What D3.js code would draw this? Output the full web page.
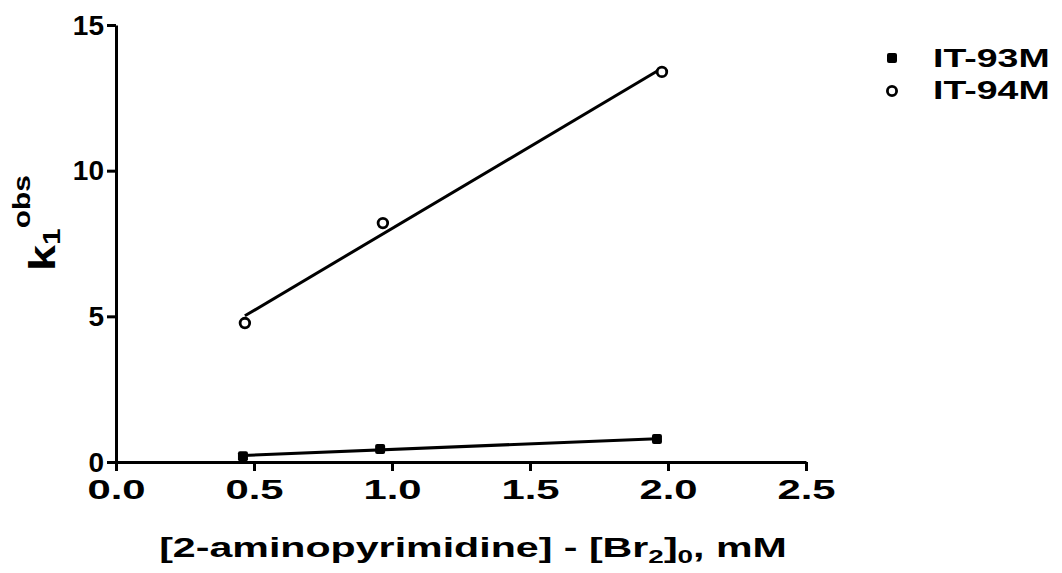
<!DOCTYPE html>
<html>
<head>
<meta charset="utf-8">
<script src="https://cdn.jsdelivr.net/npm/d3@7"></script>
<style>
  html, body { margin: 0; padding: 0; background: #fff; }
  svg { display: block; font-family: "Liberation Sans", Arial, Helvetica, sans-serif; font-weight: bold; }
</style>
</head>
<body>
<svg id="chart" width="1062" height="573"></svg>
<script>
// Concentration excess, mM
const xIT93M = [0.46, 0.957, 1.96];
const yIT93M = [0.20, 0.45, 0.79];
const xIT94M = [0.467, 0.967, 1.978];
const yIT94M = [4.77, 8.20, 13.39];

const seriesNames = ["IT-93M", "IT-94M"];
const xTicks = [0.0, 0.5, 1.0, 1.5, 2.0, 2.5];
const yTicks = [0, 5, 10, 15];

const svg = d3.select("#chart");

const x = d3.scaleLinear().domain([0, 2.5]).range([116, 806]);
const y = d3.scaleLinear().domain([0, 15]).range([462, 25]);

// least-squares straight line through a series
function fit(xs, ys) {
  const mx = d3.mean(xs), my = d3.mean(ys);
  let sxy = 0, sxx = 0;
  xs.forEach((v, i) => { sxy += (v - mx) * (ys[i] - my); sxx += (v - mx) ** 2; });
  const b = sxy / sxx, a = my - b * mx;
  const [x0, x1] = d3.extent(xs);
  return [[x0, a + b * x0], [x1, a + b * x1]];
}

// axes
const xAxis = svg.append("g")
  .attr("transform", `translate(0,${y(0)})`)
  .call(d3.axisBottom(x).tickValues(xTicks).tickFormat(d3.format(".1f")).tickSize(9).tickSizeOuter(0).tickPadding(9));
const yAxis = svg.append("g")
  .attr("transform", `translate(${x(0)},0)`)
  .call(d3.axisLeft(y).tickValues(yTicks).tickFormat(d3.format("d")).tickSize(9).tickSizeOuter(0).tickPadding(3));

[xAxis, yAxis].forEach(g => {
  g.select(".domain").attr("stroke", "#000").attr("stroke-width", 3);
  g.selectAll(".tick line").attr("stroke", "#000").attr("stroke-width", 3);
  g.selectAll(".tick text").attr("fill", "#000")
    .attr("font-family", "'Liberation Sans', Arial, sans-serif").attr("font-weight", "bold");
});
xAxis.selectAll(".tick text").attr("font-size", 27).attr("dy", "0.72em").attr("transform", "scale(1.55,1)");
yAxis.selectAll(".tick text").attr("font-size", 28).attr("dy", "0.33em");

const line = d3.line().x(d => x(d[0])).y(d => y(d[1]));

// fitted lines
[[xIT93M, yIT93M], [xIT94M, yIT94M]].forEach(([xs, ys]) => {
  svg.append("path").attr("d", line(fit(xs, ys)))
    .attr("fill", "none").attr("stroke", "#000").attr("stroke-width", 3);
});

// IT-93M: filled squares
svg.append("g").selectAll("rect")
  .data(xIT93M.map((v, i) => [v, yIT93M[i]]))
  .join("rect")
  .attr("x", d => x(d[0]) - 5).attr("y", d => y(d[1]) - 5)
  .attr("width", 10).attr("height", 10).attr("rx", 2).attr("fill", "#000");

// IT-94M: open circles
svg.append("g").selectAll("circle")
  .data(xIT94M.map((v, i) => [v, yIT94M[i]]))
  .join("circle")
  .attr("cx", d => x(d[0])).attr("cy", d => y(d[1])).attr("r", 4.8)
  .attr("fill", "#fff").attr("stroke", "#000").attr("stroke-width", 2.8);

// legend
const legend = svg.append("g");
legend.append("rect").attr("x", 887).attr("y", 53).attr("width", 10).attr("height", 10).attr("rx", 2).attr("fill", "#000");
legend.append("circle").attr("cx", 892).attr("cy", 91).attr("r", 4.6)
  .attr("fill", "#fff").attr("stroke", "#000").attr("stroke-width", 2.8);
legend.selectAll("text").data(seriesNames).join("text")
  .attr("transform", (d, i) => `translate(933,${67 + i * 32}) scale(1.5,1)`)
  .attr("font-size", 25)
  .text(d => d);

// x axis title
const xt = svg.append("text")
  .attr("transform", "translate(473,557) scale(1.47,1)")
  .attr("text-anchor", "middle").attr("font-size", 28);
xt.append("tspan").text("[2-aminopyrimidine] - [Br");
xt.append("tspan").attr("font-size", 19).attr("dy", 6).text("2");
xt.append("tspan").attr("dy", -6).text("]");
xt.append("tspan").attr("font-size", 19).attr("dy", 6).text("0");
xt.append("tspan").attr("dy", -6).text(", mM");

// y axis title
const yt = svg.append("text").attr("transform", "translate(55,271) rotate(-90) scale(1.3,1)").attr("font-size", 36);
yt.append("tspan").text("k");
yt.append("tspan").attr("font-size", 23).attr("dy", 5).text("1");
yt.append("tspan").attr("font-size", 23).attr("dy", -30).text("obs");
</script>
</body>
</html>
